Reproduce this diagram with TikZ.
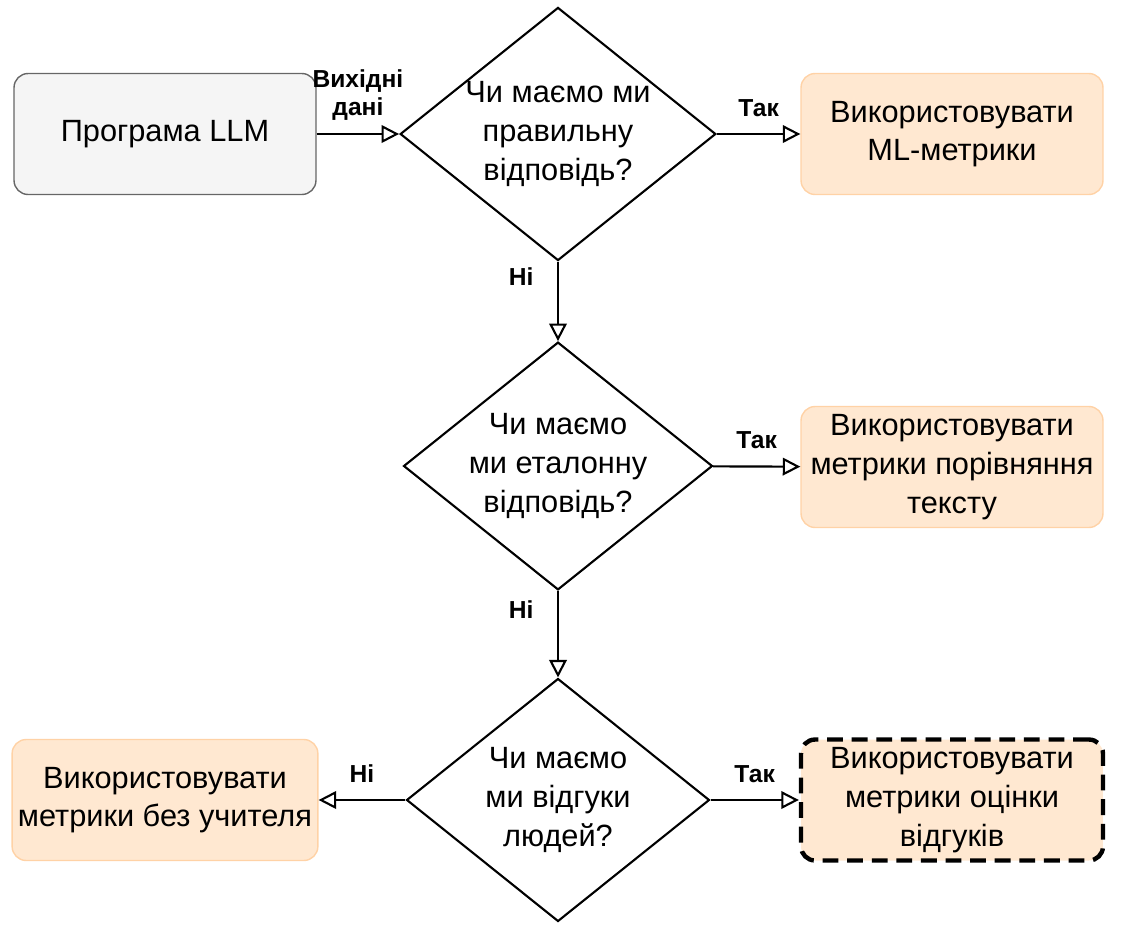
\documentclass[tikz,border=0pt]{standalone}
\usepackage{fontspec}
\setmainfont{Liberation Sans}
\usetikzlibrary{arrows.meta,shapes.geometric}

\begin{document}
\begin{tikzpicture}[x=0.02cm,y=-0.02cm,
  box/.style={draw,rounded corners=8pt,minimum width=6.04cm,minimum height=2.42cm,
    align=center,font=\fontsize{17.5}{22}\selectfont,line width=0.8pt},
  metric/.style={box,draw=orange!35,fill=orange!18},
  ask/.style={draw,diamond,aspect=1.247,minimum width=6.06cm,minimum height=4.86cm,
    inner sep=0pt,align=center,font=\fontsize{17.5}{22}\selectfont,line width=1.2pt},
  link/.style={-{Triangle[open,length=10pt,width=10pt]},line width=1.2pt},
  lbl/.style={font=\fontsize{14}{16}\selectfont\bfseries,align=center}]
\useasboundingbox (0,0) rectangle (1126,944);

% left column
\node[box,fill=black!4,draw=black!60] (llm) at (165,134) {Програма LLM};
\node[metric] (nosup) at (165,800) {Використовувати\\метрики без учителя};

% questions
\node[ask] (q1) at (558,134) {Чи маємо ми\\правильну\\відповідь?};
\node[ask] (q2) at (558,466) {Чи маємо\\ми еталонну\\відповідь?};
\node[ask] (q3) at (558,800) {Чи маємо\\ми відгуки\\людей?};

% right column
\node[metric] (ml) at (952,134) {Використовувати\\ML-метрики};
\node[metric] (txt) at (952,467) {Використовувати\\метрики порівняння\\тексту};
\node[metric,draw=black,line width=2.5pt,dash pattern=on 9pt off 5pt] (fb) at (952,800) {Використовувати\\метрики оцінки\\відгуків};

% arrows
\draw[link] (llm) -- node[lbl,above,yshift=4pt] {Вихідні\\дані} (q1);
\draw[link] (q1) -- node[lbl,above,yshift=6pt] {Так} (ml);
\draw[link] (q1) -- node[lbl,left,xshift=-10pt,yshift=14pt] {Ні} (q2);
\draw[link] (q2) -- node[lbl,above,yshift=6pt] {Так} (txt);
\draw[link] (q2) -- node[lbl,left,xshift=-10pt,yshift=14pt] {Ні} (q3);
\draw[link] (q3) -- node[lbl,above,yshift=6pt] {Так} (fb);
\draw[link] (q3) -- node[lbl,above,yshift=6pt] {Ні} (nosup);
\end{tikzpicture}
\end{document}
